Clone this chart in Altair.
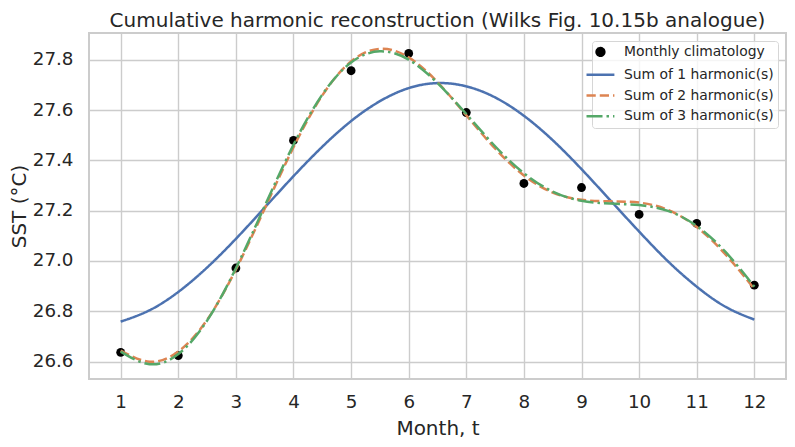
import altair as alt
import pandas as pd

# ---- data ----
months = list(range(1, 13))
climatology = [26.637, 26.624, 26.972, 27.479, 27.756, 27.825,
               27.590, 27.308, 27.292, 27.185, 27.149, 26.904]

t_fine = [1.0, 1.5, 2.0, 2.5, 3.0, 3.5, 4.0, 4.5, 5.0, 5.5, 6.0, 6.5,
          7.0, 7.5, 8.0, 8.5, 9.0, 9.5, 10.0, 10.5, 11.0, 11.5, 12.0]
sum1 = [26.759, 26.804, 26.877, 26.974, 27.088, 27.212, 27.337, 27.454,
        27.556, 27.635, 27.687, 27.707, 27.694, 27.650, 27.577, 27.480,
        27.365, 27.241, 27.117, 26.999, 26.898, 26.818, 26.767]
sum2 = [26.644, 26.600, 26.640, 26.766, 26.966, 27.208, 27.452, 27.658,
        27.793, 27.843, 27.809, 27.711, 27.579, 27.447, 27.340, 27.272,
        27.243, 27.237, 27.232, 27.203, 27.135, 27.026, 26.889]
sum3 = [26.640, 26.590, 26.630, 26.763, 26.971, 27.218, 27.462, 27.661,
        27.789, 27.833, 27.800, 27.707, 27.584, 27.456, 27.349, 27.276,
        27.239, 27.228, 27.222, 27.199, 27.139, 27.036, 26.898]

series_names = ["Monthly climatology", "Sum of 1 harmonic(s)",
                "Sum of 2 harmonic(s)", "Sum of 3 harmonic(s)"]
series_colors = ["#000000", "#4C72B0", "#DD8452", "#55A868"]
x_ticks = months
y_ticks = [26.6, 26.8, 27.0, 27.2, 27.4, 27.6, 27.8]

# ---- tables ----
pts = pd.DataFrame({"t": months, "sst": climatology, "series": series_names[0]})
lines = pd.concat([
    pd.DataFrame({"t": t_fine, "sst": s, "series": name})
    for s, name in zip([sum1, sum2, sum3], series_names[1:])
], ignore_index=True)

FONT = "DejaVu Sans"
TXT = "#262626"

color_scale = alt.Scale(domain=series_names, range=series_colors)
line_path = "M-3.6,0H3.6"
shape_scale = alt.Scale(domain=series_names,
                        range=["circle", line_path, line_path, line_path])
dash_scale = alt.Scale(domain=series_names,
                       range=[[1, 0], [1, 0], [9.25, 4], [16, 4, 2.5, 4]])

legend = alt.Legend(title=None, orient="top-right", offset=8, padding=4,
                    fillColor="rgba(255,255,255,0.8)", strokeColor="#d6d6d6",
                    cornerRadius=3, labelFont=FONT, labelFontSize=13.9,
                    labelColor=TXT, symbolSize=60, symbolStrokeWidth=2.5,
                    symbolOffset=-2.5, labelOffset=16.5, rowPadding=5.8)

x_enc = alt.X("t:Q", scale=alt.Scale(domain=[0.45, 12.55], nice=False, zero=False),
              axis=alt.Axis(title="Month, t", values=x_ticks, format="d",
                            labelPadding=28, labelBaseline="alphabetic",
                            titleX=348.5, titleY=55.3, titleBaseline="alphabetic",
                            titleAlign="center"))
y_enc = alt.Y("sst:Q", scale=alt.Scale(domain=[26.531, 27.906], nice=False, zero=False),
              axis=alt.Axis(title="SST (°C)", values=y_ticks, format=".1f",
                            labelPadding=16, labelBaseline="middle",
                            titleX=-64, titleY=173, titleAngle=270,
                            titleBaseline="alphabetic", titleAlign="center"))

points = alt.Chart(pts).mark_point(filled=True, size=78, opacity=1).encode(
    x=x_enc, y=y_enc,
    color=alt.Color("series:N", scale=color_scale, legend=legend),
    shape=alt.Shape("series:N", scale=shape_scale, legend=legend),
)

curves = alt.Chart(lines).mark_line(strokeWidth=2.5, interpolate="natural").encode(
    x=x_enc, y=y_enc,
    color=alt.Color("series:N", scale=color_scale, legend=legend),
    strokeDash=alt.StrokeDash("series:N", scale=dash_scale, legend=legend),
)

chart = alt.layer(points, curves).properties(
    width=697, height=346,
    background="white",
    title=alt.TitleParams("Cumulative harmonic reconstruction (Wilks Fig. 10.15b analogue)",
                          font=FONT, fontSize=20, fontWeight="normal", color=TXT,
                          anchor="middle", frame="group", offset=7, dy=21,
                          baseline="alphabetic"),
    autosize=alt.AutoSizeParams(type="none"),
    padding={"left": 89, "top": 33, "right": 9, "bottom": 68},
).configure_view(
    stroke="#cccccc", strokeWidth=2
).configure_axis(
    labelFont=FONT, labelFontSize=18.3, labelColor=TXT,
    titleFont=FONT, titleFontSize=20, titleFontWeight="normal", titleColor=TXT,
    grid=True, gridColor="#cccccc", gridWidth=1.4,
    domain=False, ticks=False, tickSize=0,
)

chart.save("out.html", embed_options={"renderer": "svg", "actions": False})
